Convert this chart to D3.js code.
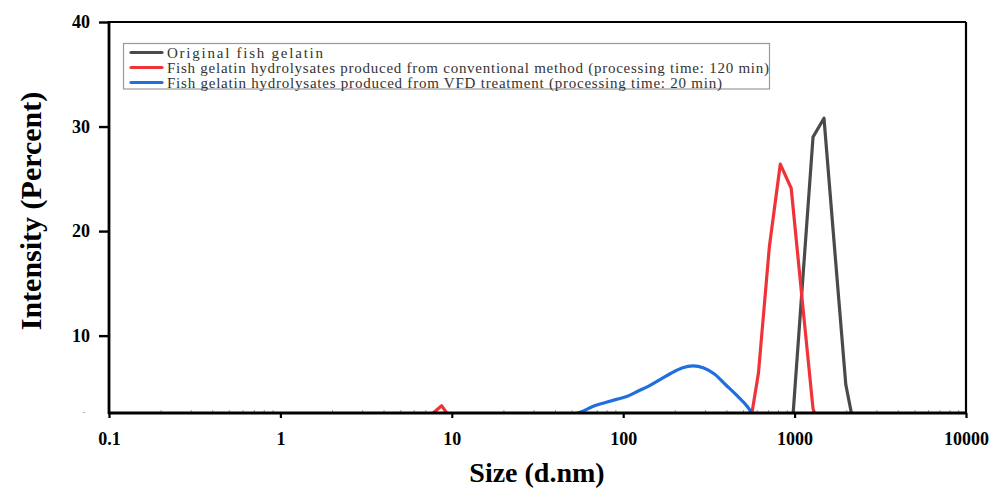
<!DOCTYPE html>
<html>
<head>
<meta charset="utf-8">
<script src="https://cdn.jsdelivr.net/npm/d3@7"></script>
<style>
  body { margin: 0; background: #fff; }
  svg { display: block; }
</style>
</head>
<body>
<svg id="chart" width="991" height="489"></svg>
<script>
// ---- Data ----
const xTickValues = [0.1, 1, 10, 100, 1000, 10000];
const xTickLabels = ["0.1", "1", "10", "100", "1000", "10000"];
const yTickValues = [10, 20, 30, 40];
const yTickLabels = ["10", "20", "30", "40"];

const originalSize = [955.4, 1106, 1281, 1484, 1718, 1990, 2305];
const originalIntensity = [0, 14.5, 29.0, 30.8, 18.0, 5.3, 0];

const conventionalSize = [6.503, 7.531, 8.721, 10.1, 11.7, 531.2, 615.1, 712.4, 825.0, 955.4, 1106, 1281, 1484];
const conventionalIntensity = [0, 2.4, 3.3, 1.8, 0, 0, 6.4, 18.5, 26.4, 24.1, 13.5, 3.0, 0];

const vfdSize = [43.82, 50.75, 58.77, 68.06, 78.82, 91.28, 105.7, 122.4, 141.8, 164.2, 190.1, 220.2, 255.0, 295.3, 342.0, 396.1, 458.7, 531.2, 615.1];
const vfdIntensity = [0, 2.3, 2.8, 3.3, 3.6, 3.9, 4.2, 4.7, 5.2, 5.8, 6.4, 6.9, 7.1, 6.9, 6.3, 5.3, 4.3, 3.2, 1.5];

const seriesNames = [
  "Original fish gelatin",
  "Fish gelatin hydrolysates produced from conventional method (processing time: 120 min)",
  "Fish gelatin hydrolysates produced from VFD treatment (processing time: 20 min)"
];
const seriesColors = ["#4a4a4a", "#ef3439", "#1f6fde"];

// ---- Layout ----
const pL = 109, pR = 966, pT = 22, pB = 413;
const yMin = 2.6, yMax = 40;

const svg = d3.select("#chart");
const x = d3.scaleLog().domain([0.1, 10000]).range([pL, pR]);
const y = d3.scaleLinear().domain([yMin, yMax]).range([pB, pT]);

svg.append("defs").append("clipPath").attr("id", "plotclip")
  .append("rect").attr("x", pL).attr("y", pT).attr("width", pR - pL).attr("height", pB - pT);

const serif = "'Liberation Serif', 'Times New Roman', serif";

// minor x ticks (inside, faint)
const minor = [];
for (let e = -1; e < 4; e++) for (let k = 2; k <= 9; k++) minor.push(k * Math.pow(10, e));
svg.append("g").attr("transform", `translate(0,${pB})`)
  .call(d3.axisBottom(x).tickValues(minor).tickSize(-3).tickFormat(""))
  .call(g => g.select(".domain").remove())
  .call(g => g.selectAll("line").attr("stroke", "#999").attr("stroke-width", 1));

// series lines
const series = [
  { s: originalSize, v: originalIntensity, curve: d3.curveLinear },
  { s: conventionalSize, v: conventionalIntensity, curve: d3.curveLinear },
  { s: vfdSize, v: vfdIntensity, curve: d3.curveMonotoneX }
];
const plot = svg.append("g").attr("clip-path", "url(#plotclip)");
series.forEach((d, i) => {
  const pts = d.s.map((sz, j) => [sz, d.v[j]]);
  const line = d3.line().x(p => x(p[0])).y(p => y(p[1])).curve(d.curve);
  plot.append("path").attr("d", line(pts))
    .attr("fill", "none").attr("stroke", seriesColors[i])
    .attr("stroke-width", 3.2).attr("stroke-linejoin", "round");
});

// frame: top and right
svg.append("line").attr("x1", pL).attr("x2", pR).attr("y1", pT).attr("y2", pT)
  .attr("stroke", "#000").attr("stroke-width", 2.2);
svg.append("line").attr("x1", pR).attr("x2", pR).attr("y1", pT).attr("y2", pB)
  .attr("stroke", "#000").attr("stroke-width", 2.2);

// x axis
const xAxis = svg.append("g").attr("transform", `translate(0,${pB})`)
  .call(d3.axisBottom(x).tickValues(xTickValues).tickSize(5).tickPadding(14)
    .tickFormat((d, i) => xTickLabels[i]));
xAxis.select(".domain").attr("stroke", "#000").attr("stroke-width", 2.8)
  .attr("d", `M${pL - 1},0H${pR + 1}`);
xAxis.selectAll("line").attr("stroke", "#000").attr("stroke-width", 2.2);
xAxis.selectAll("text").attr("font-family", serif).attr("font-weight", "bold")
  .attr("font-size", 18).attr("fill", "#000");

// y axis
const yAxis = svg.append("g").attr("transform", `translate(${pL},0)`)
  .call(d3.axisLeft(y).tickValues(yTickValues).tickSize(10).tickPadding(9)
    .tickFormat((d, i) => yTickLabels[i]));
yAxis.select(".domain").attr("stroke", "#000").attr("stroke-width", 2.8)
  .attr("d", `M0,${pT - 1}V${pB + 1}`);
yAxis.selectAll("line").attr("stroke", "#000").attr("stroke-width", 2.4);
yAxis.selectAll("text").attr("font-family", serif).attr("font-weight", "bold")
  .attr("font-size", 18).attr("fill", "#000");

// stray tick label remnant at the bottom of the y axis
svg.append("text").attr("x", 84).attr("y", y(yMin) + 2).attr("text-anchor", "middle")
  .attr("font-family", serif).attr("font-size", 10).attr("fill", "#aaa").text("-");

// axis titles
svg.append("text").attr("x", 537).attr("y", 482).attr("text-anchor", "middle")
  .attr("font-family", serif).attr("font-weight", "bold").attr("font-size", 28)
  .attr("fill", "#000").text("Size (d.nm)");
svg.append("text").attr("transform", "translate(41,211) rotate(-90)").attr("text-anchor", "middle")
  .attr("font-family", serif).attr("font-weight", "bold").attr("font-size", 30)
  .attr("fill", "#000").text("Intensity (Percent)");

// legend
const lg = svg.append("g");
lg.append("rect").attr("x", 123.5).attr("y", 43.5).attr("width", 646).attr("height", 45.5)
  .attr("fill", "#fff").attr("stroke", "#9a9a9a").attr("stroke-width", 1.2);
const textLens = [156, 602, 555];
seriesNames.forEach((name, i) => {
  const yy = 52.5 + i * 15;
  lg.append("line").attr("x1", 131).attr("x2", 162).attr("y1", yy).attr("y2", yy)
    .attr("stroke", seriesColors[i]).attr("stroke-width", 3.2).attr("stroke-linecap", "round");
  lg.append("text").attr("x", 167).attr("y", yy + 5)
    .attr("font-family", serif).attr("font-size", 15).attr("fill", "#333")
    .attr("textLength", textLens[i]).attr("lengthAdjust", "spacing")
    .text(name);
});
</script>
</body>
</html>
